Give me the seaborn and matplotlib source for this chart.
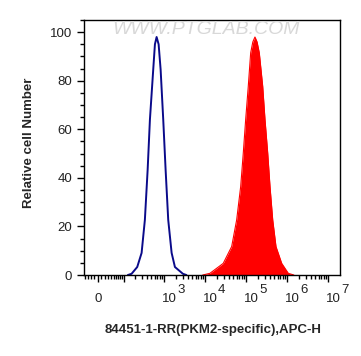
import numpy as np
import matplotlib
matplotlib.use("Agg")
import matplotlib.pyplot as plt
import matplotlib.ticker as mticker
import seaborn as sns
import pandas as pd

# control (unstained) histogram
ctrl_x = [130, 162, 225, 289, 348, 407, 463, 558, 614, 675, 756, 846,
          980, 1120, 1297, 1570, 1890, 2960, 3600]
ctrl_y = [0, 0.5, 3.3, 9.1, 22.7, 43.3, 64, 84.6, 95, 98, 95, 84.6,
          64, 43.3, 22.7, 9.1, 3.3, 0.5, 0]

# PKM2 stained histogram
stain_x = [9000, 13500, 28500, 45700, 60500, 75800, 87700, 100300, 116100,
           132900, 150000, 169000, 190000, 215500, 261000, 297000, 345800,
           393500, 458000, 550700, 758500, 1098000, 1500000]
stain_y = [0, 0.7, 4.8, 11.7, 22.7, 36.4, 50.2, 64, 77.7, 91.5, 96, 98,
           96, 91.5, 77.7, 64, 50.2, 36.4, 22.7, 11.7, 4.8, 0.7, 0]

xmajor = [0, 100, 1e3, 1e4, 1e5, 1e6, 1e7]
# decade labels: (tick value, exponent)
decades = [(1e3, "3"), (1e4, "4"), (1e5, "5"), (1e6, "6"), (1e7, "7")]

W = 50.0

def fwd(x):
    return np.arcsinh(np.asarray(x) / W)

def inv(y):
    return W * np.sinh(np.asarray(y))

sns.set_style("ticks")
plt.rcParams["font.family"] = ["Liberation Sans", "DejaVu Sans"]

fig = plt.figure(figsize=(3.61, 3.56), dpi=100)
ax = fig.add_axes([0.2327, 0.2275, 0.7091, 0.7163])

ctrl = pd.DataFrame({"x": ctrl_x, "y": ctrl_y})
stain = pd.DataFrame({"x": stain_x, "y": stain_y})

ax.fill_between(stain["x"], stain["y"], color="#ff0000", lw=0)
sns.lineplot(data=stain, x="x", y="y", sort=False, estimator=None,
             color="#ff0000", lw=0.8, ax=ax)
sns.lineplot(data=ctrl, x="x", y="y", sort=False, estimator=None,
             color="#0a0a8a", lw=1.4, ax=ax)

ax.set_xscale("function", functions=(fwd, inv))
ax.set_xlim(-43, 2.0e7)
ax.set_ylim(0, 105)

ax.xaxis.set_major_locator(mticker.FixedLocator(xmajor))
ax.xaxis.set_major_formatter(mticker.NullFormatter())
minors = [-40, -30, -20, -10] + [m * 10 for m in range(1, 10)]
for d in range(2, 7):
    minors += [m * 10 ** d for m in range(2, 10)]
ax.xaxis.set_minor_locator(mticker.FixedLocator(minors))
ax.yaxis.set_major_locator(mticker.MultipleLocator(20))
ax.yaxis.set_minor_locator(mticker.MultipleLocator(5))

ax.tick_params(axis="both", which="major", length=5, width=1, labelsize=9.5, color="black")
ax.tick_params(axis="both", which="minor", length=3, width=1, color="black")
for lab in ax.get_yticklabels():
    lab.set_color("#222222")

# x tick labels, drawn like the cytometer software: "10" with a full-size exponent
tr = ax.get_xaxis_transform()
ax.annotate("0", xy=(0, 0), xycoords=tr, xytext=(0, -27), textcoords="offset pixels",
            ha="center", va="baseline", fontsize=9.5, color="#222222")
for val, exp in decades:
    ax.annotate("10", xy=(val, 0), xycoords=tr, xytext=(-2, -27),
                textcoords="offset pixels", ha="left", va="baseline",
                fontsize=9.5, color="#222222")
    ax.annotate(exp, xy=(val, 0), xycoords=tr, xytext=(13.5, -18),
                textcoords="offset pixels", ha="left", va="baseline",
                fontsize=9.5, color="#222222")

for s in ax.spines.values():
    s.set_visible(True)
    s.set_linewidth(1)
    s.set_color("black")

ax.set_xlabel("84451-1-RR(PKM2-specific),APC-H", fontsize=9.5, fontweight="bold")
ax.set_ylabel("Relative cell Number", fontsize=9.5, fontweight="bold")
ax.xaxis.set_label_coords(0.504, -0.214)
ax.xaxis.label.set_va("center")
ax.yaxis.set_label_coords(-0.215, 0.52)
ax.yaxis.label.set_va("center")

ax.text(0.477, 0.962, "WWW.PTGLAB.COM", transform=ax.transAxes, ha="center",
        va="center", fontsize=14, style="italic", color="#d8d8d8")

fig.savefig("out.png", dpi=100)
